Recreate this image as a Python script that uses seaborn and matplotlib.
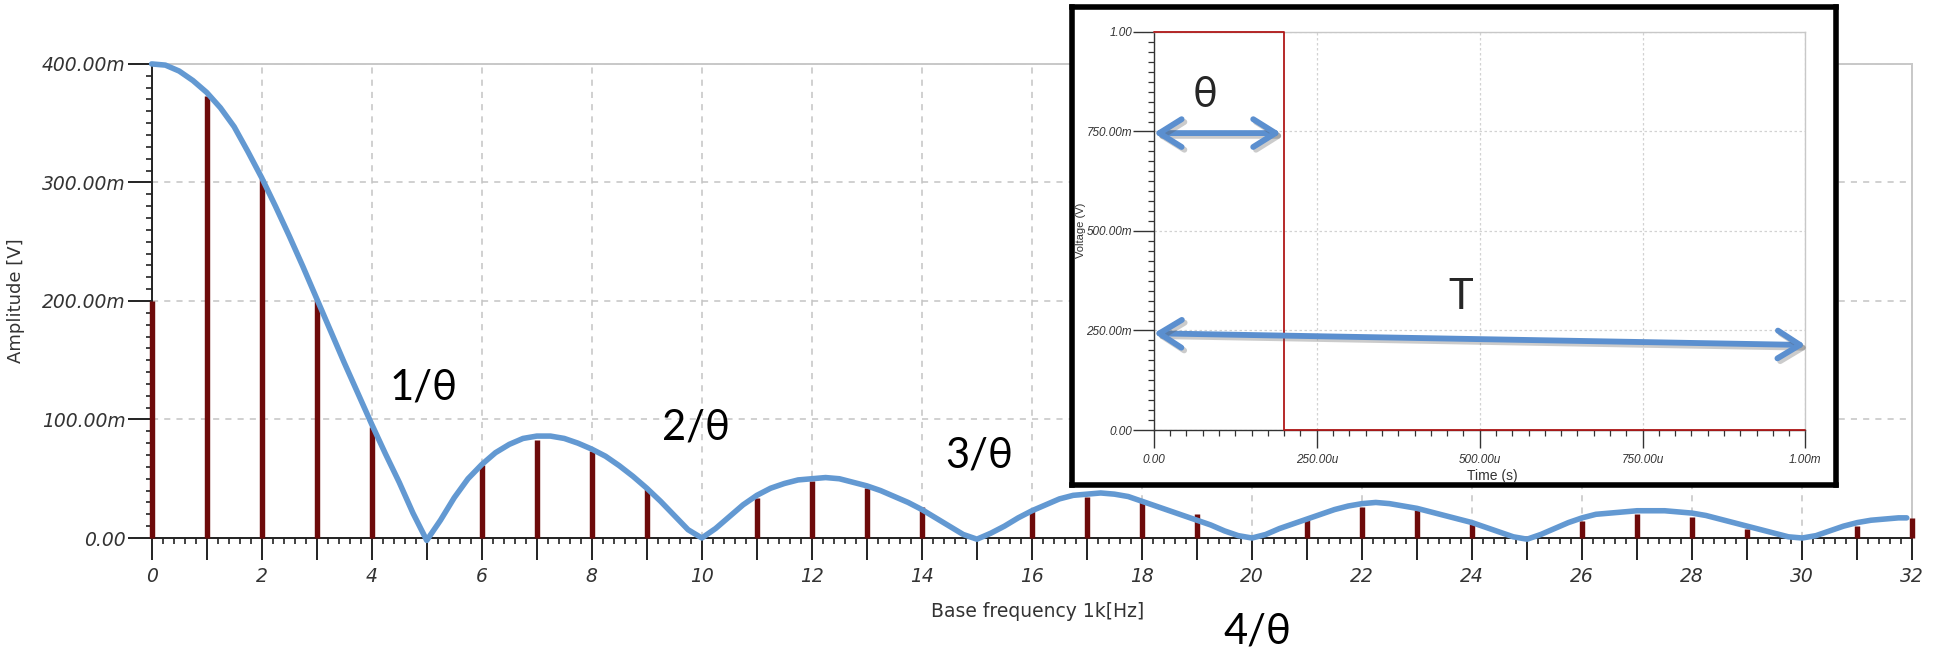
import matplotlib
matplotlib.use("Agg")
import matplotlib.pyplot as plt
import matplotlib.patheffects as pe
from matplotlib.ticker import MultipleLocator, FuncFormatter
import seaborn as sns

# ---------------- data ----------------
harmonic = list(range(33))
stem_amp = [0.200, 0.373, 0.303, 0.200, 0.094, 0.000, 0.062, 0.083, 0.073, 0.041,
            0.000, 0.034, 0.048, 0.042, 0.026, 0.000, 0.023, 0.035, 0.030, 0.020,
            0.000, 0.018, 0.026, 0.024, 0.012, 0.002, 0.014, 0.020, 0.018, 0.008,
            0.000, 0.010, 0.017]

env_freq = [0, 0.25, 0.5, 0.75, 1, 1.25, 1.5, 1.75, 2, 2.25, 2.5, 2.75, 3, 3.25, 3.5, 3.75,
            4, 4.25, 4.5, 4.75, 5, 5.25, 5.5, 5.75, 6, 6.25, 6.5, 6.75, 7, 7.25, 7.5, 7.75,
            8, 8.25, 8.5, 8.75, 9, 9.25, 9.5, 9.75, 10, 10.25, 10.5, 10.75, 11, 11.25, 11.5, 11.75,
            12, 12.25, 12.5, 12.75, 13, 13.25, 13.5, 13.75, 14, 14.25, 14.5, 14.75, 15, 15.25, 15.5, 15.75,
            16, 16.25, 16.5, 16.75, 17, 17.25, 17.5, 17.75, 18, 18.25, 18.5, 18.75, 19, 19.25, 19.5, 19.75,
            20, 20.25, 20.5, 20.75, 21, 21.25, 21.5, 21.75, 22, 22.25, 22.5, 22.75, 23, 23.25, 23.5, 23.75,
            24, 24.25, 24.5, 24.75, 25, 25.25, 25.5, 25.75, 26, 26.25, 26.5, 26.75, 27, 27.25, 27.5, 27.75,
            28, 28.25, 28.5, 28.75, 29, 29.25, 29.5, 29.75, 30, 30.25, 30.5, 30.75, 31, 31.25, 31.5, 31.75,
            31.9]
env_amp = [0.400, 0.399, 0.394, 0.386, 0.376, 0.363, 0.347, 0.326, 0.304, 0.280, 0.255, 0.229, 0.202, 0.175, 0.148, 0.122,
           0.096, 0.071, 0.047, 0.021, -0.002, 0.015, 0.034, 0.050, 0.062, 0.072, 0.079, 0.084, 0.086, 0.086, 0.084, 0.080,
           0.075, 0.069, 0.061, 0.052, 0.042, 0.031, 0.019, 0.007, 0.000, 0.008, 0.018, 0.028, 0.036, 0.042, 0.046, 0.049,
           0.050, 0.051, 0.050, 0.047, 0.044, 0.040, 0.035, 0.030, 0.024, 0.017, 0.010, 0.003, -0.001, 0.004, 0.010, 0.017,
           0.023, 0.028, 0.033, 0.036, 0.037, 0.038, 0.037, 0.035, 0.031, 0.027, 0.023, 0.019, 0.015, 0.011, 0.006, 0.002,
           0.000, 0.003, 0.008, 0.012, 0.016, 0.020, 0.024, 0.027, 0.029, 0.030, 0.029, 0.027, 0.025, 0.022, 0.019, 0.016,
           0.013, 0.009, 0.005, 0.001, -0.001, 0.003, 0.008, 0.013, 0.017, 0.020, 0.021, 0.022, 0.023, 0.023, 0.023, 0.022,
           0.021, 0.019, 0.016, 0.013, 0.010, 0.007, 0.004, 0.001, 0.000, 0.002, 0.006, 0.010, 0.013, 0.015, 0.016, 0.017,
           0.017]

null_labels = ["1/θ", "2/θ", "3/θ", "4/θ"]
null_label_x = [4.95, 9.9, 15.05, 20.1]
null_label_y = [0.127, 0.093, 0.070, -0.079]

pulse_time = [0.0, 200e-6, 200e-6, 1e-3]
pulse_volt = [1.0, 1.0, 0.0, 0.0]

main_ylabels = {0.0: "0.00", 0.1: "100.00m", 0.2: "200.00m", 0.3: "300.00m", 0.4: "400.00m"}
inset_xlabels = ["0.00", "250.00u", "500.00u", "750.00u", "1.00m"]
inset_ylabels = ["0.00", "250.00m", "500.00m", "750.00m", "1.00"]

# ---------------- style ----------------
sns.set_theme(style="white")
plt.rcParams['font.family'] = ['DejaVu Sans']

ins_font = ['Liberation Sans', 'DejaVu Sans']
big_font = ['Lato', 'DejaVu Sans']

STEM = '#6e0b0b'
BLUE = '#6399d2'
GRIDC = '#c4c4c4'
TXT = '#333333'

fig = plt.figure(figsize=(19.39, 6.53), dpi=100)
fig.patch.set_facecolor('white')

# ---------------- main axes ----------------
ax = fig.add_axes([0.0782, 0.1761, 0.908, 0.726])
ax.set_xlim(0, 32)
ax.set_ylim(0, 0.4)

ax.vlines(harmonic, 0, stem_amp, color=STEM, lw=3.9, zorder=3, clip_on=False)
sns.lineplot(x=env_freq, y=env_amp, ax=ax, color=BLUE, lw=4.0, zorder=4,
             solid_joinstyle='round', solid_capstyle='round', clip_on=False)

ax.xaxis.set_major_locator(MultipleLocator(1))
ax.xaxis.set_minor_locator(MultipleLocator(0.2))
ax.yaxis.set_major_locator(MultipleLocator(0.1))
ax.yaxis.set_minor_locator(MultipleLocator(0.01))
ax.xaxis.set_major_formatter(FuncFormatter(lambda v, p: f"{int(round(v))}" if int(round(v)) % 2 == 0 else ""))
ax.yaxis.set_major_formatter(FuncFormatter(lambda v, p: main_ylabels.get(round(v, 2), "")))

ax.tick_params(which='both', bottom=True, left=True, top=False, right=False)
ax.tick_params(axis='both', which='major', direction='out', color='#222222', width=1.4,
               labelsize=13.5, labelcolor=TXT)
ax.tick_params(axis='x', which='major', length=16, pad=5)
ax.tick_params(axis='y', which='major', length=17, pad=2)
ax.tick_params(axis='both', which='minor', direction='out', length=4.5, width=1.2, color='#222222')
for lab in ax.get_xticklabels() + ax.get_yticklabels():
    lab.set_fontstyle('italic')

ax.grid(True, which='major', axis='both', linestyle=(0, (4, 4)), color=GRIDC, lw=1.1)
locs = ax.xaxis.get_majorticklocs()
for loc, tick in zip(locs, ax.xaxis.get_major_ticks(len(locs))):
    tick.gridline.set_visible(int(round(loc)) % 2 == 0)

for s in ['top', 'right']:
    ax.spines[s].set_color('#c8c8c8')
    ax.spines[s].set_linewidth(1.4)
for s in ['left', 'bottom']:
    ax.spines[s].set_color('#222222')
    ax.spines[s].set_linewidth(1.4)

ax.set_ylabel("Amplitude [V]", fontsize=13, color=TXT)
ax.yaxis.set_label_coords(-0.0722, 0.5)
ax.set_xlabel("Base frequency 1k[Hz]", fontsize=13.5, color=TXT)
ax.xaxis.set_label_coords(0.503, -0.135)

for lab, x, y in zip(null_labels, null_label_x, null_label_y):
    ax.text(x, y, lab, fontsize=30, family=big_font, color='black',
            ha='center', va='center', clip_on=False)

# ---------------- inset ----------------
bg = fig.add_axes([0.5529, 0.2573, 0.394, 0.732], zorder=5)
bg.set_xticks([])
bg.set_yticks([])
bg.set_facecolor('white')
for s in bg.spines.values():
    s.set_color('black')
    s.set_linewidth(4)

ins = fig.add_axes([0.5951, 0.3415, 0.336, 0.6095], zorder=6)
ins.set_facecolor('white')
ins.set_xlim(0, 1e-3)
ins.set_ylim(0, 1.0)
sns.lineplot(x=pulse_time, y=pulse_volt, ax=ins, sort=False, estimator=None,
             color='#b01818', lw=1.3, clip_on=False, zorder=3)

ins.xaxis.set_major_locator(MultipleLocator(250e-6))
ins.xaxis.set_minor_locator(MultipleLocator(25e-6))
ins.yaxis.set_major_locator(MultipleLocator(0.25))
ins.yaxis.set_minor_locator(MultipleLocator(0.025))
ins.xaxis.set_major_formatter(FuncFormatter(lambda v, p: inset_xlabels[int(round(v / 250e-6))] if 0 <= round(v / 250e-6) <= 4 else ""))
ins.yaxis.set_major_formatter(FuncFormatter(lambda v, p: inset_ylabels[int(round(v / 0.25))] if 0 <= round(v / 0.25) <= 4 else ""))
ins.tick_params(which='both', bottom=True, left=True, top=False, right=False)
ins.tick_params(axis='both', which='major', direction='out', color='#333333', width=1.0,
                labelsize=8.5, labelcolor=TXT)
ins.tick_params(axis='x', which='major', length=13, pad=4)
ins.tick_params(axis='y', which='major', length=15, pad=0.8)
ins.tick_params(axis='both', which='minor', direction='out', length=4, width=0.9, color='#333333')
for lab in ins.get_xticklabels() + ins.get_yticklabels():
    lab.set_fontstyle('italic')
    lab.set_family(ins_font)

ins.grid(True, which='major', linestyle=(0, (2, 2)), color='#d2d2d2', lw=0.9)
for s in ['top', 'right']:
    ins.spines[s].set_color('#c8c8c8')
    ins.spines[s].set_linewidth(1.0)
for s in ['left', 'bottom']:
    ins.spines[s].set_color('#333333')
    ins.spines[s].set_linewidth(1.0)

ins.set_xlabel("Time (s)", fontsize=10, family=ins_font, color=TXT)
ins.xaxis.set_label_coords(0.52, -0.098)
ins.set_ylabel("Voltage (V)", fontsize=8, color=TXT, family=ins_font)
ins.yaxis.set_label_coords(-0.104, 0.5025)

ARROW = '#5b8fcf'
arrow_fx = [pe.SimpleLineShadow(offset=(2, -2), shadow_color='#555555', alpha=0.3), pe.Normal()]
ins.annotate('', xy=(0.0, 0.746), xytext=(195e-6, 0.746), xycoords='data',
             arrowprops=dict(arrowstyle='<->,head_length=0.8,head_width=0.5', lw=4.2,
                             color=ARROW, shrinkA=0, shrinkB=0, mutation_scale=20,
                             path_effects=arrow_fx),
             annotation_clip=False)
ins.annotate('', xy=(0.0, 0.243), xytext=(1e-3, 0.2136), xycoords='data',
             arrowprops=dict(arrowstyle='<->,head_length=0.8,head_width=0.5', lw=4.2,
                             color=ARROW, shrinkA=0, shrinkB=0, mutation_scale=20,
                             path_effects=arrow_fx),
             annotation_clip=False)
ins.text(79e-6, 0.842, 'θ', fontsize=30, family=big_font, ha='center', va='center')
ins.text(471e-6, 0.335, 'T', fontsize=30, family=big_font, ha='center', va='center')

fig.savefig('out.png', dpi=100, facecolor='white')
